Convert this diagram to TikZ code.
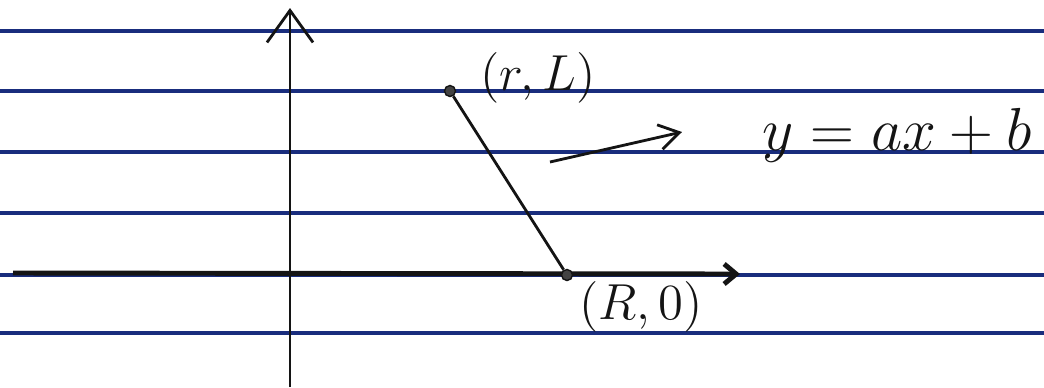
\documentclass[tikz,border=0pt]{standalone}
\usepackage{amsmath,amssymb}
\usepackage{tikz}
\usetikzlibrary{arrows.meta,positioning}
\usepackage{xcolor}
\definecolor{ruleblue}{RGB}{25,45,125}
\definecolor{ink}{RGB}{20,20,20}

\begin{document}
\begin{tikzpicture}[x=0.01cm, y=-0.01cm,
    rule/.style={ruleblue, line width=1.3pt},
    axis/.style={ink, line width=0.8pt, -{Straight Barb[length=3.2mm, width=4.6mm]}},
    xaxis/.style={ink, line width=1.4pt, -{Straight Barb[length=1.2mm, width=2mm]}},
    pt/.style={circle, draw=ink, fill=ink!80, inner sep=0pt, minimum size=0.11cm},
    lbl/.style={text=ink, font=\Large},
    arr/.style={ink, thick, -{Straight Barb[length=2mm, width=2.5mm]}}
]
\useasboundingbox (0,0) rectangle (1044,387);

% Ruled paper
\foreach \y in {31,91,152,213,275,333} {
  \draw[rule] (0,\y) -- (1044,\y);
}

% Axes
\coordinate (ybot) at (290,387);
\coordinate (ytop) at (290,8);
\draw[axis] (ybot) -- (ytop);
\coordinate (xleft) at (13,273);
\coordinate (xright) at (740,274);
\draw[xaxis] (xleft) -- (xright);

% Segment
\node[pt] (top) at (450,91) {};
\node[pt] (base) at (567,275) {};
\draw[ink, thick] (top) -- (base);

% Labels
\node[lbl, anchor=west] (toplbl) at (468,78) {$(r,L)$};
\node[lbl] (baselbl) at (641,307) {$(R,0)$};

% Line equation
\node[lbl, font=\LARGE, anchor=base west] (eq) at (750,150) {$y = ax + b$};
\coordinate (tail) at (550,162);
\coordinate (tip) at (682,132);
\draw[arr] (tail) -- (tip);

\end{tikzpicture}
\end{document}
